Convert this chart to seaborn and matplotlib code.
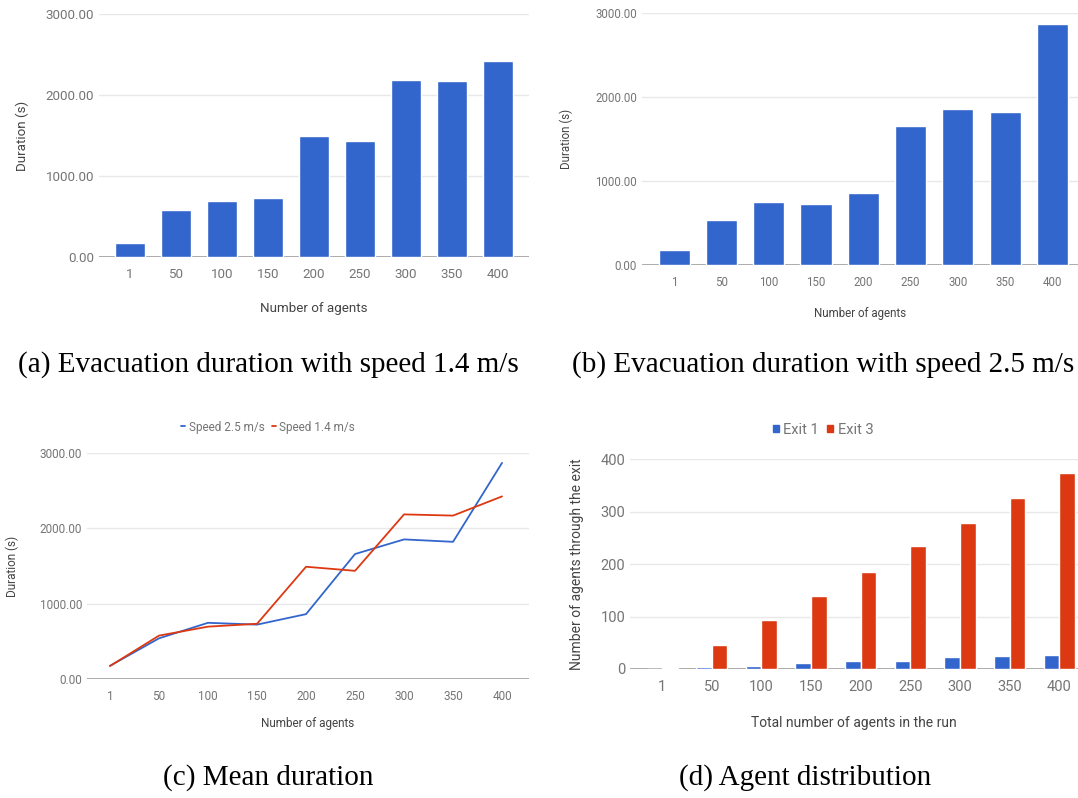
import pandas as pd
import matplotlib.pyplot as plt
import numpy as np
import seaborn as sns
from matplotlib.lines import Line2D
from matplotlib.patches import Patch

# data
agents = ["1", "50", "100", "150", "200", "250", "300", "350", "400"]
dur_14 = [173, 576, 695, 733, 1490, 1436, 2185, 2169, 2424]
dur_25 = [175, 540, 746, 722, 861, 1659, 1853, 1821, 2869]
exit1 = [0, 4, 6, 11, 16, 16, 22, 24, 26]
exit3 = [1, 46, 94, 139, 184, 234, 278, 326, 374]

BLUE = "#3366cc"
RED = "#dc3912"
TICK = "#757575"
LAB = "#444444"
GRID = "#e8e8e8"
BASE = "#9e9e9e"

sns.set_style("white")
plt.rcParams['font.family'] = ['Roboto', 'DejaVu Sans']

W, H = 1078, 798
fig = plt.figure(figsize=(W / 100, H / 100), dpi=100)


def ax_px(left, top, right, bottom):
    return fig.add_axes([left / W, 1 - bottom / H, (right - left) / W, (bottom - top) / H])


def style(ax, fs, yticks, fmt):
    ax.set_yticks(yticks)
    ax.set_yticklabels([fmt.format(v) for v in yticks])
    ax.tick_params(axis='both', length=0, labelsize=fs, colors=TICK)
    ax.tick_params(axis='x', pad=8)
    for s in ax.spines.values():
        s.set_visible(False)
    ax.grid(axis='y', color=GRID, linewidth=1)
    ax.set_axisbelow(True)
    ax.axhline(0, color=BASE, linewidth=1.2, zorder=0.9)


def caption(x, y, txt):
    fig.text(x / W, 1 - y / H, txt, ha='center', va='center',
             family=['Liberation Serif', 'DejaVu Serif'], fontsize=21, color='black')


# (a)
dfa = pd.DataFrame({"agents": agents, "duration": dur_14})
ax1 = ax_px(99, 14, 529, 257)
sns.barplot(data=dfa, x="agents", y="duration", color=BLUE, saturation=1, width=0.65, ax=ax1)
ax1.set_xlim(-0.67, 8.67)
ax1.set_ylim(0, 3000)
style(ax1, 9.6, [0, 1000, 2000, 3000], "{:.2f}")
ax1.set_xlabel("Number of agents", fontsize=9.6, color=LAB, labelpad=15)
ax1.set_ylabel("Duration (s)", fontsize=9.6, color=LAB, labelpad=12)
caption(268, 365, "(a) Evacuation duration with speed 1.4 m/s")

# (b)
dfb = pd.DataFrame({"agents": agents, "duration": dur_25})
ax2 = ax_px(642, 13, 1078, 265)
sns.barplot(data=dfb, x="agents", y="duration", color=BLUE, saturation=1, width=0.66, ax=ax2)
ax2.set_xlim(-0.68, 8.54)
ax2.set_ylim(0, 3000)
style(ax2, 8.3, [0, 1000, 2000, 3000], "{:.2f}")
ax2.set_xlabel("Number of agents", fontsize=8.3, color=LAB, labelpad=13)
ax2.set_ylabel("Duration (s)", fontsize=8.3, color=LAB, labelpad=16)
caption(823, 365, "(b) Evacuation duration with speed 2.5 m/s")

# (c)
dfc = pd.DataFrame({"agents": agents * 2,
                    "duration": dur_25 + dur_14,
                    "speed": ["Speed 2.5 m/s"] * len(agents) + ["Speed 1.4 m/s"] * len(agents)})
ax3 = ax_px(87, 453, 529, 679)
sns.pointplot(data=dfc, x="agents", y="duration", hue="speed",
              palette=[BLUE, RED], markers="", linestyles="-", errorbar=None, ax=ax3)
for ln in ax3.lines:
    ln.set_linewidth(1.3)
ax3.set_xlim(-0.47, 8.55)
ax3.set_ylim(0, 3000)
style(ax3, 8.5, [0, 1000, 2000, 3000], "{:.2f}")
ax3.set_xlabel("Number of agents", fontsize=8.5, color=LAB, labelpad=10)
ax3.set_ylabel("Duration (s)", fontsize=8.5, color=LAB, labelpad=15)
ax3.get_legend().remove()
handles = [Line2D([], [], color=BLUE, lw=1.3), Line2D([], [], color=RED, lw=1.3)]
fig.legend(handles, ["Speed 2.5 m/s", "Speed 1.4 m/s"], loc='center',
           bbox_to_anchor=(268 / W, 1 - 427 / H), ncol=2, frameon=False,
           fontsize=8.5, labelcolor=TICK, handlelength=0.35, handletextpad=0.3,
           columnspacing=0.6)
caption(268, 778, "(c) Mean duration")

# (d)
dfd = pd.DataFrame({"agents": agents * 2,
                    "count": exit1 + exit3,
                    "exit": ["Exit 1"] * len(agents) + ["Exit 3"] * len(agents)})
ax4 = ax_px(630, 459, 1078, 669)
sns.barplot(data=dfd, x="agents", y="count", hue="exit", palette=[BLUE, RED],
            saturation=1, width=0.63, ax=ax4)
ax4.set_xlim(-0.65, 8.38)
ax4.set_ylim(0, 400)
style(ax4, 10.5, [0, 100, 200, 300, 400], "{:d}")
ax4.set_xlabel("Total number of agents in the run", fontsize=10, color=LAB, labelpad=16)
ax4.set_ylabel("Number of agents through the exit", fontsize=10, color=LAB, labelpad=12)
ax4.get_legend().remove()
handles = [Patch(color=BLUE), Patch(color=RED)]
fig.legend(handles, ["Exit 1", "Exit 3"], loc='center',
           bbox_to_anchor=(823 / W, 1 - 430 / H), ncol=2, frameon=False,
           fontsize=10.5, labelcolor=TICK, handlelength=0.4, handleheight=0.4,
           handletextpad=0.3, columnspacing=0.6)
caption(805, 778, "(d) Agent distribution")

fig.savefig("out.png", dpi=100)
